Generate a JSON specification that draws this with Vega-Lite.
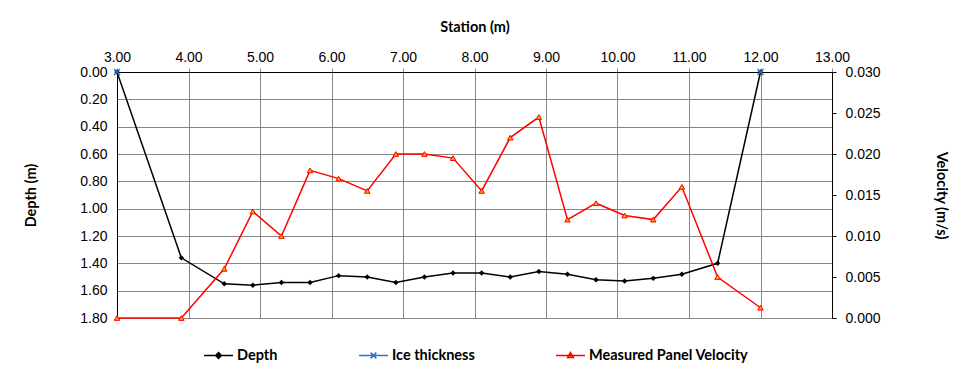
{
  "$schema": "https://vega.github.io/schema/vega-lite/v6.json",
  "width": 715,
  "height": 246,
  "autosize": {"type": "none"},
  "padding": {"left": 117, "top": 72, "right": 132, "bottom": 49},
  "background": "white",
  "config": {
    "view": {"stroke": null},
    "axis": {
      "labelFont": "Liberation Sans",
      "labelFontSize": 14,
      "labelColor": "black",
      "labelFlush": false,
      "titleFont": "Lato",
      "titleFontSize": 14.5,
      "titleFontWeight": "bold",
      "titleColor": "black",
      "gridColor": "#868686",
      "gridOpacity": 1,
      "gridWidth": 1,
      "domainColor": "black",
      "domainWidth": 1
    },
    "legend": {
      "orient": "none",
      "legendX": 86,
      "legendY": 268,
      "direction": "horizontal",
      "padding": 0,
      "labelFont": "Lato",
      "labelFontWeight": "bold",
      "labelFontSize": 14.5,
      "labelColor": "black",
      "symbolSize": 841,
      "symbolStrokeWidth": 1.5,
      "labelOffset": 3,
      "columnPadding": 78
    }
  },
  "data": {
    "values": [
      {"station": 3.0, "series": "Depth", "value": 0.0},
      {"station": 3.9, "series": "Depth", "value": 1.36},
      {"station": 4.5, "series": "Depth", "value": 1.55},
      {"station": 4.9, "series": "Depth", "value": 1.56},
      {"station": 5.3, "series": "Depth", "value": 1.54},
      {"station": 5.7, "series": "Depth", "value": 1.54},
      {"station": 6.1, "series": "Depth", "value": 1.49},
      {"station": 6.5, "series": "Depth", "value": 1.5},
      {"station": 6.9, "series": "Depth", "value": 1.54},
      {"station": 7.3, "series": "Depth", "value": 1.5},
      {"station": 7.7, "series": "Depth", "value": 1.47},
      {"station": 8.1, "series": "Depth", "value": 1.47},
      {"station": 8.5, "series": "Depth", "value": 1.5},
      {"station": 8.9, "series": "Depth", "value": 1.46},
      {"station": 9.3, "series": "Depth", "value": 1.48},
      {"station": 9.7, "series": "Depth", "value": 1.52},
      {"station": 10.1, "series": "Depth", "value": 1.53},
      {"station": 10.5, "series": "Depth", "value": 1.51},
      {"station": 10.9, "series": "Depth", "value": 1.48},
      {"station": 11.4, "series": "Depth", "value": 1.4},
      {"station": 12.0, "series": "Depth", "value": 0.0},
      {"station": 3.0, "series": "Ice thickness", "value": 0.0},
      {"station": 12.0, "series": "Ice thickness", "value": 0.0},
      {"station": 3.0, "series": "Measured Panel Velocity", "value": 0.0},
      {"station": 3.9, "series": "Measured Panel Velocity", "value": 0.0},
      {"station": 4.5, "series": "Measured Panel Velocity", "value": 0.006},
      {"station": 4.9, "series": "Measured Panel Velocity", "value": 0.013},
      {"station": 5.3, "series": "Measured Panel Velocity", "value": 0.01},
      {"station": 5.7, "series": "Measured Panel Velocity", "value": 0.018},
      {"station": 6.1, "series": "Measured Panel Velocity", "value": 0.017},
      {"station": 6.5, "series": "Measured Panel Velocity", "value": 0.0155},
      {"station": 6.9, "series": "Measured Panel Velocity", "value": 0.02},
      {"station": 7.3, "series": "Measured Panel Velocity", "value": 0.02},
      {"station": 7.7, "series": "Measured Panel Velocity", "value": 0.0195},
      {"station": 8.1, "series": "Measured Panel Velocity", "value": 0.0155},
      {"station": 8.5, "series": "Measured Panel Velocity", "value": 0.022},
      {"station": 8.9, "series": "Measured Panel Velocity", "value": 0.0245},
      {"station": 9.3, "series": "Measured Panel Velocity", "value": 0.012},
      {"station": 9.7, "series": "Measured Panel Velocity", "value": 0.014},
      {"station": 10.1, "series": "Measured Panel Velocity", "value": 0.0125},
      {"station": 10.5, "series": "Measured Panel Velocity", "value": 0.012},
      {"station": 10.9, "series": "Measured Panel Velocity", "value": 0.016},
      {"station": 11.4, "series": "Measured Panel Velocity", "value": 0.005},
      {"station": 12.0, "series": "Measured Panel Velocity", "value": 0.00125}
    ]
  },
  "encoding": {
    "x": {
      "field": "station",
      "type": "quantitative",
      "scale": {"domain": [3, 13], "nice": false, "zero": false},
      "axis": {
        "orient": "top",
        "title": "Station (m)",
        "values": [3, 4, 5, 6, 7, 8, 9, 10, 11, 12, 13],
        "format": ".2f",
        "labelFont": "Liberation Sans",
        "labelFlush": false,
        "tickColor": "#868686",
        "tickSize": 4,
        "labelPadding": 4,
        "titlePadding": 16,
        "grid": true
      }
    }
  },
  "layer": [
    {
      "encoding": {
        "y": {
          "field": "value",
          "type": "quantitative",
          "scale": {"domain": [0, 1.8], "reverse": true, "nice": false},
          "axis": {
            "orient": "left",
            "title": "Depth (m)",
            "values": [0, 0.2, 0.4, 0.6, 0.8, 1.0, 1.2, 1.4, 1.6, 1.8],
            "format": ".2f",
            "labelFont": "Liberation Sans",
            "labelFlush": false,
            "ticks": false,
            "labelPadding": 10,
            "titlePadding": 41,
            "grid": true
          }
        }
      },
      "layer": [
        {
          "transform": [{"filter": "datum.series === 'Depth'"}],
          "mark": {"type": "line", "strokeWidth": 1.5},
          "encoding": {
            "color": {
              "field": "series",
              "type": "nominal",
              "scale": {
                "domain": ["Depth", "Ice thickness", "Measured Panel Velocity"],
                "range": ["black", "#2A74CC", "#FF0000"]
              },
              "legend": {
                "title": null,
                "encode": {
                  "symbols": {
                    "update": {
                      "shape": {"signal": "datum.value === 'Depth' ? 'M-1,0H1M0,-0.2L0.2,0L0,0.2L-0.2,0Z' : datum.value === 'Ice thickness' ? 'M-1,0H1M-0.2,-0.2L0.2,0.2M-0.2,0.2L0.2,-0.2' : 'M-1,0H1M0,-0.2L0.2,0.14L-0.2,0.14Z'"},
                      "stroke": {"signal": "datum.value === 'Depth' ? 'black' : datum.value === 'Ice thickness' ? '#2A74CC' : '#FF0000'"},
                      "fill": {"signal": "datum.value === 'Depth' ? 'black' : datum.value === 'Ice thickness' ? 'transparent' : '#FFA500'"},
                      "strokeWidth": {"value": 1.5},
                      "opacity": {"value": 1}
                    }
                  }
                }
              }
            }
          }
        },
        {
          "transform": [{"filter": "datum.series === 'Depth'"}],
          "mark": {"type": "point", "shape": "diamond", "filled": true, "color": "black", "size": 30, "opacity": 1}
        },
        {
          "transform": [{"filter": "datum.series === 'Ice thickness'"}],
          "mark": {"type": "point", "shape": "M-1,-1L1,1M-1,1L1,-1", "filled": false, "size": 36, "strokeWidth": 1.5, "opacity": 1},
          "encoding": {
            "color": {
              "field": "series",
              "type": "nominal",
              "scale": {
                "domain": ["Depth", "Ice thickness", "Measured Panel Velocity"],
                "range": ["black", "#2A74CC", "#FF0000"]
              }
            }
          }
        }
      ]
    },
    {
      "encoding": {
        "y": {
          "field": "value",
          "type": "quantitative",
          "scale": {"domain": [0, 0.03], "nice": false},
          "axis": {
            "orient": "right",
            "title": "Velocity (m/s)",
            "values": [0, 0.005, 0.01, 0.015, 0.02, 0.025, 0.03],
            "format": ".3f",
            "labelFont": "Liberation Sans",
            "labelFlush": false,
            "tickColor": "black",
            "tickSize": 4,
            "labelPadding": 9,
            "titlePadding": 53,
            "grid": false
          }
        }
      },
      "layer": [
        {
          "transform": [{"filter": "datum.series === 'Measured Panel Velocity'"}],
          "mark": {"type": "line", "strokeWidth": 1.5},
          "encoding": {
            "color": {
              "field": "series",
              "type": "nominal",
              "scale": {
                "domain": ["Depth", "Ice thickness", "Measured Panel Velocity"],
                "range": ["black", "#2A74CC", "#FF0000"]
              }
            }
          }
        },
        {
          "transform": [{"filter": "datum.series === 'Measured Panel Velocity'"}],
          "mark": {"type": "point", "shape": "triangle-up", "filled": true, "fill": "#FFA500", "stroke": "#FF0000", "strokeWidth": 1, "size": 30, "opacity": 1}
        }
      ]
    }
  ],
  "resolve": {"scale": {"y": "independent"}}
}
